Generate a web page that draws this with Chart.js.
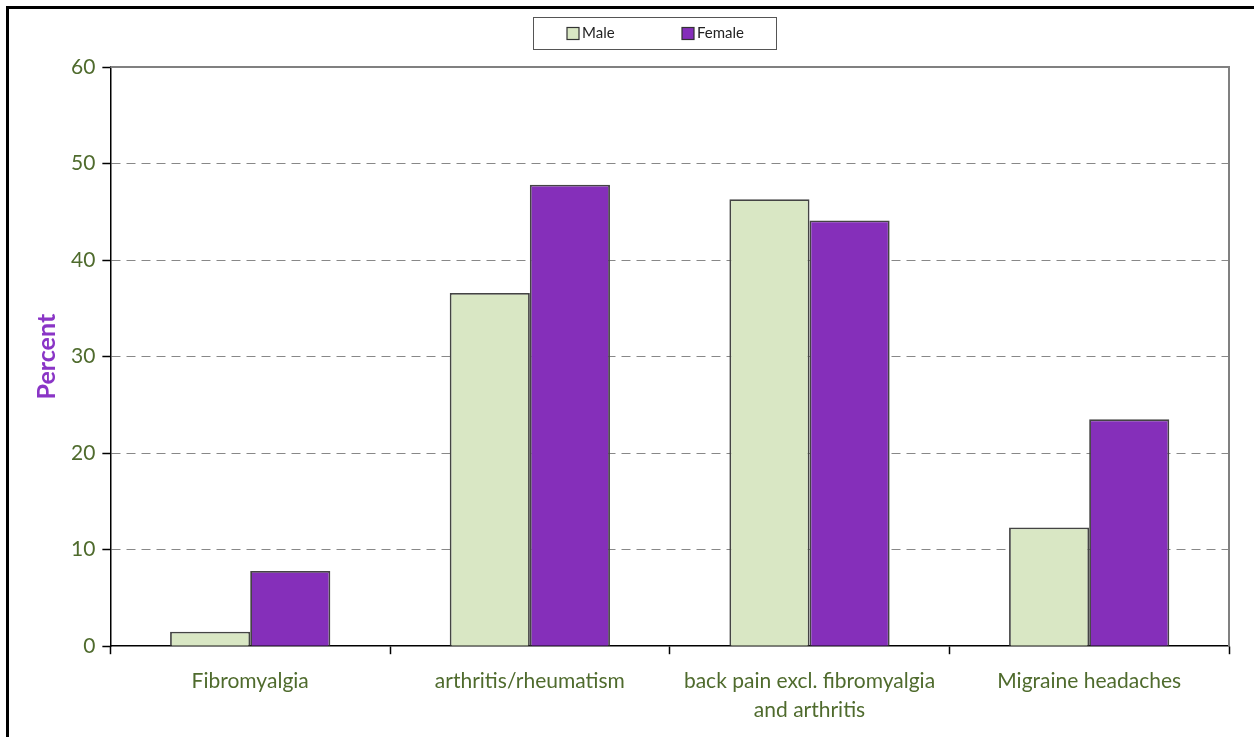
<!DOCTYPE html>
<html>
<head>
<meta charset="utf-8">
<script src="https://cdn.jsdelivr.net/npm/chart.js@4"></script>
<style>
  html, body { margin: 0; padding: 0; background: #fff; }
  #wrap { position: relative; width: 1254px; height: 737px; }
  #frame { position: absolute; left: 6px; top: 6px; width: 1260px; height: 740px;
           border-left: 3px solid #000; border-top: 3px solid #000; box-sizing: border-box; }
  canvas { position: absolute; left: 0; top: 0; }
</style>
</head>
<body>
<div id="wrap">
  <div id="frame"></div>
  <canvas id="chart" width="1254" height="737"></canvas>
</div>
<script>
const categories = [
  'Fibromyalgia',
  'arthritis/rheumatism',
  ['back pain excl. fibromyalgia', 'and arthritis'],
  'Migraine headaches'
];
const maleValues = [1.5, 36.6, 46.3, 12.3];
const femaleValues = [7.8, 47.8, 44.1, 23.5];
const yTicks = [0, 10, 20, 30, 40, 50, 60];

const GREEN_TEXT = '#4F6B2D';
const FONT = 'Lato, "Open Sans", sans-serif';

// plot box top/right edges plus the small boxed legend
const framePlugin = {
  id: 'framePlugin',
  afterDraw(chart) {
    const { ctx, chartArea: a } = chart;
    ctx.save();
    ctx.strokeStyle = '#808080';
    ctx.lineWidth = 2;
    ctx.beginPath();
    ctx.moveTo(a.left, a.top);
    ctx.lineTo(a.right, a.top);
    ctx.lineTo(a.right, a.bottom);
    ctx.stroke();

    // legend
    const box = { x: 533, y: 17, w: 243, h: 32 };
    ctx.fillStyle = '#fff';
    ctx.fillRect(box.x, box.y, box.w, box.h);
    ctx.strokeStyle = '#555';
    ctx.lineWidth = 1;
    ctx.strokeRect(box.x + 0.5, box.y + 0.5, box.w, box.h);
    const itemX = [567, 682];
    ctx.font = '15px ' + FONT;
    ctx.textBaseline = 'middle';
    chart.data.datasets.forEach((ds, i) => {
      const x = itemX[i], cy = box.y + box.h / 2 + 0.5;
      ctx.fillStyle = ds.backgroundColor;
      ctx.fillRect(x, cy - 6, 12, 12);
      ctx.strokeStyle = '#333';
      ctx.lineWidth = 1.2;
      ctx.strokeRect(x, cy - 6, 12, 12);
      ctx.fillStyle = '#222';
      ctx.fillText(ds.label, x + 15, cy);
    });
    ctx.restore();
  }
};

new Chart(document.getElementById('chart'), {
  type: 'bar',
  data: {
    labels: categories,
    datasets: [
      {
        label: 'Male',
        data: maleValues,
        backgroundColor: '#D9E7C4',
        borderColor: '#444',
        borderWidth: 1.8,
        borderSkipped: 'bottom'
      },
      {
        label: 'Female',
        data: femaleValues,
        backgroundColor: '#852FBA',
        borderColor: '#444',
        borderWidth: 1.8,
        borderSkipped: 'bottom'
      }
    ]
  },
  options: {
    responsive: false,
    animation: false,
    layout: { padding: { top: 67, right: 25, bottom: 0, left: 34 } },
    datasets: {
      bar: { categoryPercentage: 0.573, barPercentage: 1.0 }
    },
    plugins: {
      legend: { display: false },
      tooltip: { enabled: false }
    },
    scales: {
      x: {
        grid: {
          offset: true,
          drawOnChartArea: false,
          tickLength: 8,
          tickColor: '#000',
          tickWidth: 1.5
        },
        border: { color: '#000', width: 1.5 },
        ticks: {
          color: GREEN_TEXT,
          font: { family: FONT, size: 21, lineHeight: 1.4 },
          padding: 12,
          maxRotation: 0,
          autoSkip: false
        }
      },
      y: {
        min: 0,
        max: 60,
        afterBuildTicks: axis => { axis.ticks = yTicks.map(v => ({ value: v })); },
        grid: {
          color: ctx => (ctx.tick && (ctx.tick.value === 0 || ctx.tick.value === 60)) ? 'rgba(0,0,0,0)' : '#888',
          lineWidth: 1,
          tickLength: 8,
          tickColor: '#000',
          tickWidth: 1.5,
          tickBorderDash: []
        },
        border: { color: '#000', width: 1.5, dash: [9, 6] },
        ticks: {
          color: GREEN_TEXT,
          font: { family: FONT, size: 21 },
          padding: 7
        },
        title: {
          display: true,
          text: 'Percent',
          color: '#8A35C6',
          font: { family: FONT, size: 25, weight: 'bold', lineHeight: 1 },
          padding: { top: 0, bottom: 5 }
        }
      }
    }
  },
  plugins: [framePlugin]
});
</script>
</body>
</html>
